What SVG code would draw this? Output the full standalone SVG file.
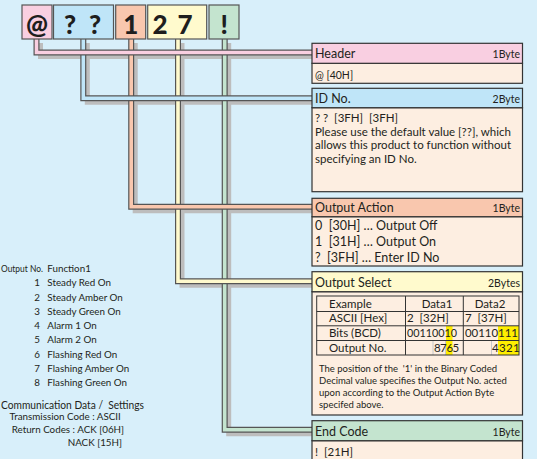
<svg xmlns="http://www.w3.org/2000/svg" width="537" height="459" viewBox="0 0 537 459">
<style>
text{font-family:Lato,"Liberation Sans",sans-serif;fill:#231f20;white-space:pre}
.big{font-size:26px;font-weight:900;text-anchor:middle;fill:#1e1e1e}
.tb{stroke:#555;stroke-width:1.2}
.box{stroke:#333;stroke-width:1.2}
.body{fill:#fdeee1}
.ttl{font-size:12.5px}
.byte{font-size:10.5px;text-anchor:end}
.txt{font-size:11.5px}
.sm{font-size:9.5px}
.shadow{fill:none;stroke:#bdbdbd;stroke-width:5;stroke-linejoin:miter}
.out{fill:none;stroke:#555;stroke-width:6;stroke-linejoin:miter}
.in{fill:none;stroke-width:3.6;stroke-linejoin:miter}
.tl{stroke:#333;stroke-width:1;fill:none}
.left{font-size:9.8px}
</style>
<rect width="537" height="459" fill="#d8effa"/>

<g id="connectors">
  <g transform="translate(4,4)">
    <path class="shadow" d="M36.5 39V52.5H312"/>
    <path class="shadow" d="M83.3 39V98.3H312"/>
    <path class="shadow" d="M131.2 39V206.7H312"/>
    <path class="shadow" d="M178 39V281.2H312"/>
    <path class="shadow" d="M224.7 39V429.7H312"/>
  </g>
  <path class="out" d="M224.7 39V429.7H312"/>
  <path class="in" stroke="#c4e4cf" d="M224.7 39V429.7H312"/>
  <path class="out" d="M178 39V281.2H312"/>
  <path class="in" stroke="#fffacd" d="M178 39V281.2H312"/>
  <path class="out" d="M131.2 39V206.7H312"/>
  <path class="in" stroke="#f9c7ae" d="M131.2 39V206.7H312"/>
  <path class="out" d="M83.3 39V98.3H312"/>
  <path class="in" stroke="#bfe5f8" d="M83.3 39V98.3H312"/>
  <path class="out" d="M36.5 39V52.5H312"/>
  <path class="in" stroke="#f9cfe1" d="M36.5 39V52.5H312"/>
</g>

<g id="top-at">
  <rect class="tb" x="22" y="5" width="30" height="34" fill="#f9cfe1"/>
  <text class="big" x="37" y="33.5">@</text>
</g>
<g id="top-id">
  <rect class="tb" x="53.5" y="5" width="60" height="34" fill="#bfe5f8"/>
  <text class="big" x="70" y="33.5">?</text>
  <text class="big" x="95" y="33.5">?</text>
</g>
<g id="top-1">
  <rect class="tb" x="115.7" y="5" width="30" height="34" fill="#f9c7ae"/>
  <text class="big" x="130.7" y="33.5">1</text>
</g>
<g id="top-27">
  <rect class="tb" x="147.7" y="5" width="59" height="34" fill="#fffacd"/>
  <text class="big" x="160" y="33.5">2</text>
  <text class="big" x="185" y="33.5">7</text>
</g>
<g id="top-end">
  <rect class="tb" x="209" y="5" width="30" height="34" fill="#c4e4cf"/>
  <text class="big" x="224.3" y="33.5">!</text>
</g>

<g id="header">
  <rect class="box body" x="312" y="63.3" width="210.5" height="20"/>
  <rect class="box" x="312" y="43.3" width="210.5" height="20" fill="#f9cfe1"/>
  <text class="ttl" x="315" y="57.5">Header</text>
  <text class="byte" x="520" y="57.5">1Byte</text>
  <text x="315" y="79" font-size="10.5">@ [40H]</text>
</g>

<g id="id-no">
  <rect class="box body" x="312" y="107.7" width="210.5" height="84"/>
  <rect class="box" x="312" y="88.3" width="210.5" height="19.4" fill="#bfe5f8"/>
  <text class="ttl" x="315" y="102.5">ID No.</text>
  <text class="byte" x="520" y="102.5">2Byte</text>
  <text class="txt" x="315" y="121.5">? ?  [3FH]  [3FH]</text>
  <text class="txt" x="315" y="135.5">Please use the default value [??], which</text>
  <text class="txt" x="315" y="149">allows this product to function without</text>
  <text class="txt" x="315" y="162.5">specifying an ID No.</text>
</g>

<g id="output-action">
  <rect class="box body" x="312" y="216.7" width="210.5" height="49.3"/>
  <rect class="box" x="312" y="198.3" width="210.5" height="18.4" fill="#f9c7ae"/>
  <text class="ttl" x="315" y="211.5">Output Action</text>
  <text class="byte" x="520" y="211.5">1Byte</text>
  <text class="ttl" x="315" y="229.5">0  [30H] … Output Off</text>
  <text class="ttl" x="315" y="246">1  [31H] … Output On</text>
  <text class="ttl" x="315" y="262">?  [3FH] … Enter ID No</text>
</g>

<g id="output-select">
  <rect class="box body" x="312" y="291.7" width="210.5" height="123.3"/>
  <rect class="box" x="312" y="271.7" width="210.5" height="20" fill="#fffacd"/>
  <text class="ttl" x="315" y="286.5">Output Select</text>
  <text class="byte" x="520" y="287">2Bytes</text>
  <rect x="446" y="326" width="6.5" height="29" fill="#ffee00"/>
  <rect x="498" y="326" width="21" height="29" fill="#ffee00"/>
  <g stroke="#c8c8c8" stroke-width="1">
    <line x1="433" y1="341" x2="433" y2="355"/>
    <line x1="445.5" y1="341" x2="445.5" y2="355"/>
    <line x1="491.5" y1="341" x2="491.5" y2="355"/>
  </g>
  <rect class="tl" x="316.7" y="296" width="202.3" height="59"/>
  <line class="tl" x1="316.7" y1="311.5" x2="519" y2="311.5"/>
  <line class="tl" x1="316.7" y1="325.8" x2="519" y2="325.8"/>
  <line class="tl" x1="316.7" y1="340.5" x2="519" y2="340.5"/>
  <line class="tl" x1="405.5" y1="296" x2="405.5" y2="355"/>
  <line class="tl" x1="463.3" y1="296" x2="463.3" y2="355" stroke-width="1.6"/>
  <text class="txt" x="329" y="307.8">Example</text>
  <text class="txt" x="437" y="307.8" text-anchor="middle">Data1</text>
  <text class="txt" x="490" y="307.8" text-anchor="middle">Data2</text>
  <text class="txt" x="329" y="322.3">ASCII [Hex]</text>
  <text class="txt" x="407" y="322.3">2  [32H]</text>
  <text class="txt" x="465" y="322.3">7  [37H]</text>
  <text class="txt" x="329" y="337">Bits (BCD)</text>
  <text class="txt" x="407" y="337" textLength="50" lengthAdjust="spacingAndGlyphs">00110010</text>
  <text class="txt" x="465" y="337" textLength="53" lengthAdjust="spacingAndGlyphs">00110111</text>
  <text class="txt" x="329" y="351.5">Output No.</text>
  <text class="txt" x="434" y="351.5">8</text>
  <text class="txt" x="440" y="351.5">7</text>
  <text class="txt" x="446.5" y="351.5">6</text>
  <text class="txt" x="452.5" y="351.5">5</text>
  <text class="txt" x="492" y="351.5">4</text>
  <text class="txt" x="499" y="351.5">3</text>
  <text class="txt" x="506" y="351.5">2</text>
  <text class="txt" x="513" y="351.5">1</text>
  <text class="sm" x="319" y="371.5">The position of the  '1' in the Binary Coded</text>
  <text class="sm" x="319" y="383.5">Decimal value specifies the Output No. acted</text>
  <text class="sm" x="319" y="395.5">upon according to the Output Action Byte</text>
  <text class="sm" x="319" y="407.5">specifed above.</text>
</g>

<g id="end-code">
  <rect class="box body" x="312" y="440.7" width="210.5" height="25"/>
  <rect class="box" x="312" y="420.7" width="210.5" height="20" fill="#c4e4cf"/>
  <text class="ttl" x="315" y="435.5">End Code</text>
  <text class="byte" x="520" y="435.5">1Byte</text>
  <text class="txt" x="315" y="455.5">!  [21H]</text>
</g>

<g id="legend">
  <text class="left" x="1" y="272" textLength="42" lengthAdjust="spacingAndGlyphs">Output No.</text>
  <text class="left" x="47.3" y="272">Function1</text>
  <g text-anchor="end">
    <text class="left" x="40" y="286.2">1</text>
    <text class="left" x="40" y="300.5">2</text>
    <text class="left" x="40" y="314.8">3</text>
    <text class="left" x="40" y="329.1">4</text>
    <text class="left" x="40" y="343.4">5</text>
    <text class="left" x="40" y="357.7">6</text>
    <text class="left" x="40" y="372">7</text>
    <text class="left" x="40" y="386.3">8</text>
  </g>
  <text class="left" x="47.3" y="286.2">Steady Red On</text>
  <text class="left" x="47.3" y="300.5">Steady Amber On</text>
  <text class="left" x="47.3" y="314.8">Steady Green On</text>
  <text class="left" x="47.3" y="329.1">Alarm 1 On</text>
  <text class="left" x="47.3" y="343.4">Alarm 2 On</text>
  <text class="left" x="47.3" y="357.7">Flashing Red On</text>
  <text class="left" x="47.3" y="372">Flashing Amber On</text>
  <text class="left" x="47.3" y="386.3">Flashing Green On</text>
  <text x="1" y="409" font-size="11" textLength="143" lengthAdjust="spacingAndGlyphs">Communication Data /  Settings</text>
  <text class="left" x="9.5" y="420">Transmission Code : ASCII</text>
  <text class="left" x="11.7" y="433">Return Codes : ACK [06H]</text>
  <text class="left" x="67.7" y="446">NACK [15H]</text>
</g>
</svg>
